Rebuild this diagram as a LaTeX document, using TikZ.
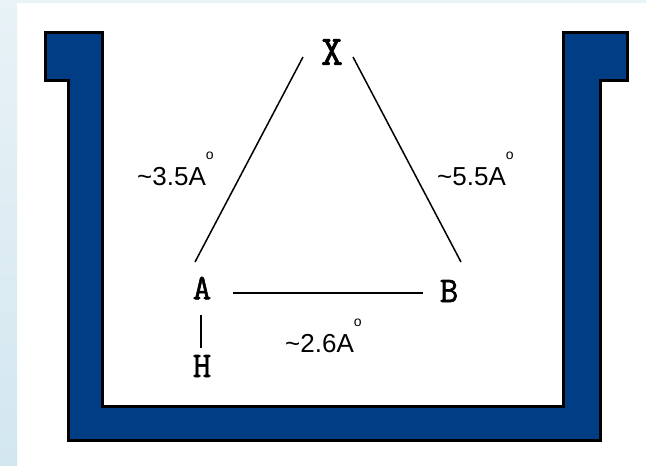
\documentclass[tikz,border=0pt]{standalone}
\usepackage{fontspec}
\setmainfont{Liberation Sans}
\newfontfamily\atomfont[FakeBold=1.6]{Latin Modern Mono}
\usetikzlibrary{positioning}
\definecolor{wallblue}{RGB}{0,61,133}
\definecolor{stripblue}{RGB}{232,242,247}
\definecolor{stripdark}{RGB}{211,231,239}
\tikzset{
  atom/.style={font=\atomfont\fontsize{36}{36}\selectfont, inner sep=0pt},
  dist/.style={font=\fontsize{26}{26}\selectfont, inner sep=0pt, anchor=base west},
  bond/.style={draw=black, line width=1.5pt},
  wall/.style={draw=black, fill=wallblue, line width=3pt}
}
\newcommand\bondlen[1]{\textasciitilde#1A\raisebox{1em}{\fontsize{14}{14}\selectfont o}}
\begin{document}
\begin{tikzpicture}[x=1pt, y=-1pt]
  \useasboundingbox (0,0) rectangle (646,466);
  % background strips
  \fill[white] (0,0) rectangle (646,466);
  \fill[stripblue] (0,0) rectangle (646,2.5);
  \shade[top color=stripblue, bottom color=stripdark] (0,0) rectangle (17,466);

  % the pocket
  \draw[wall] (45.5,32.5) -- (102.5,32.5) -- (102.5,406) -- (563.5,406) -- (563.5,32.5)
    -- (627.5,32.5) -- (627.5,80.5) -- (600.5,80.5) -- (600.5,440.5) -- (68.5,440.5)
    -- (68.5,80.5) -- (45.5,80.5) -- cycle;

  % atoms
  \node[atom, font=\atomfont\fontsize{42}{42}\selectfont] (X) at (332,52) {X};
  \node[atom] (A) at (202,288) {A};
  \node[atom] (B) at (449,291) {B};
  \node[atom] (H) at (202,366) {H};

  % distances
  \node[dist] (xa) at (137,185) {\bondlen{3.5}};
  \node[dist] (xb) at (437,185) {\bondlen{5.5}};
  \node[dist] (ab) at (285,352) {\bondlen{2.6}};

  % bonds
  \draw[bond] ([shift={(-29,5)}]X.center) -- ([shift={(-7,-26)}]A.center);
  \draw[bond] ([shift={(21,5)}]X.center) -- ([shift={(12,-29)}]B.center);
  \draw[bond, line width=2.5pt] ([shift={(31,5)}]A.center) -- ([shift={(-26,2)}]B.center);
  \draw[bond] ([shift={(-1,27)}]A.center) -- ([shift={(-1,-18)}]H.center);
\end{tikzpicture}
\end{document}
